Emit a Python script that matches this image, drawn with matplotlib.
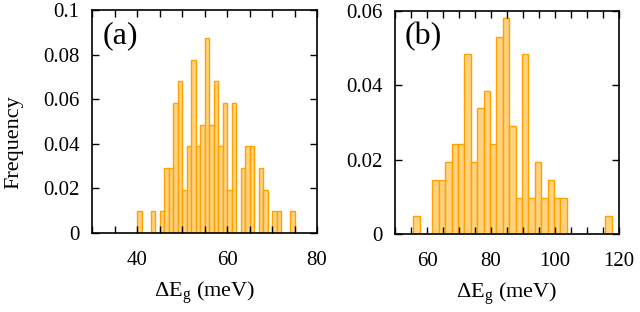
import numpy as np
import matplotlib
matplotlib.use("Agg")
import matplotlib.pyplot as plt
from matplotlib.ticker import MultipleLocator, FixedLocator

plt.rcParams['font.family'] = 'Liberation Serif'
plt.rcParams['mathtext.fontset'] = 'custom'
plt.rcParams['mathtext.rm'] = 'Liberation Serif'

# panel (a): 1 meV bins, frequency values
a_left = [40, 41, 42, 43, 44, 45, 46, 47, 48, 49, 50, 51, 52, 53, 54, 55, 56, 57,
          58, 59, 60, 61, 62, 63, 64, 65, 66, 67, 68, 69, 70, 71, 72, 73, 74]
a_freq = [0.0097, 0, 0, 0.0097, 0, 0.0097, 0.0291, 0.0291, 0.0583, 0.068,
          0.0194, 0.0388, 0.0777, 0.0388, 0.0485, 0.0874, 0.0485, 0.068,
          0.0388, 0.0583, 0.0194, 0.0583, 0, 0.0291, 0.0388, 0.0388, 0,
          0.0291, 0.0194, 0, 0.0097, 0.0097, 0, 0, 0.0097]

# panel (b): 2 meV bins
b_left = [55.7, 57.7, 59.7, 61.7, 63.7, 65.7, 67.7, 69.7, 71.7, 73.7, 75.7, 77.7,
          79.7, 81.7, 83.7, 85.7, 87.7, 89.7, 91.7, 93.7, 95.7, 97.7, 99.7, 101.7,
          103.7, 105.7, 107.7, 109.7, 111.7, 113.7, 115.7]
b_freq = [0.0048, 0, 0, 0.0145, 0.0145, 0.0193, 0.0241, 0.0241, 0.0483, 0.0193,
          0.0338, 0.0386, 0.0241, 0.0531, 0.0580, 0.029, 0.0097, 0.0483, 0.0097,
          0.0193, 0.0097, 0.0145, 0.0097, 0.0097, 0, 0, 0, 0, 0, 0, 0.0048]

fill = '#ffd27f'
edge = '#ffa200'

fig = plt.figure(figsize=(6.4, 3.12), dpi=100)
ax1 = fig.add_axes([92/640, 79/312, 225/640, 223/312])
ax2 = fig.add_axes([395/640, 78/312, 224/640, 223/312])

ax1.bar(a_left, a_freq, width=1, align='edge', color=fill, edgecolor=edge, linewidth=1)
ax2.bar(b_left, b_freq, width=2, align='edge', color=fill, edgecolor=edge, linewidth=1)

ax1.set_xlim(30, 80)
ax1.set_ylim(0, 0.1)
ax1.xaxis.set_major_locator(FixedLocator([40, 60, 80]))
ax1.xaxis.set_minor_locator(MultipleLocator(5))
ax1.set_yticks([0, 0.02, 0.04, 0.06, 0.08, 0.1])
ax1.set_yticklabels(['0', '0.02', '0.04', '0.06', '0.08', '0.1'])

ax2.set_xlim(50, 120)
ax2.set_ylim(0, 0.06)
ax2.xaxis.set_major_locator(FixedLocator([60, 80, 100, 120]))
ax2.xaxis.set_minor_locator(MultipleLocator(5))
ax2.set_yticks([0, 0.02, 0.04, 0.06])
ax2.set_yticklabels(['0', '0.02', '0.04', '0.06'])

for ax, tag in [(ax1, '(a)'), (ax2, '(b)')]:
    ax.tick_params(which='both', direction='in', top=True, right=True,
                   labelsize=15, width=1, length=5)
    ax.tick_params(axis='x', which='both', pad=13)
    ax.tick_params(axis='y', which='both', pad=9)
    for s in ax.spines.values():
        s.set_linewidth(1.2)
    ax.set_xlabel('ΔE$_{\\rm g}$ (meV)', fontsize=16, labelpad=7)
    ax.text(0.045, 0.95, tag, transform=ax.transAxes, fontsize=23, va='top', ha='left')

fig.text(14/640, 0.545, 'Frequency', rotation=90, fontsize=16, ha='center', va='center')

fig.savefig('out.png', dpi=100)
